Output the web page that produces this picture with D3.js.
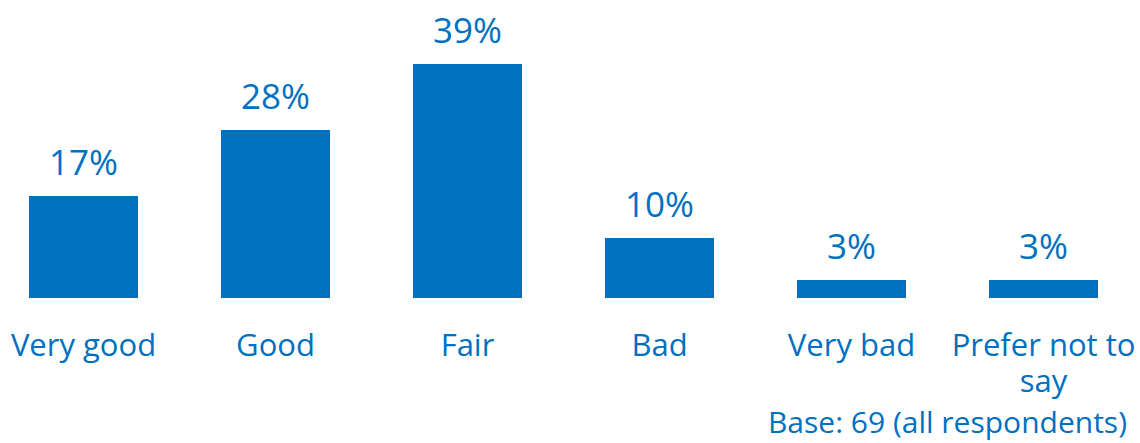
<!DOCTYPE html>
<html><head><meta charset="utf-8">
<script src="https://cdn.jsdelivr.net/npm/d3@7"></script>
<style>body{margin:0;background:#fff;} text{font-family:"Open Sans","Noto Sans",sans-serif;}</style>
</head><body>
<svg id="chart" width="1140" height="443"></svg>
<script>
const categories = ["Very good", "Good", "Fair", "Bad", "Very bad", "Prefer not to say"];
const values = [17, 28, 39, 10, 3, 3];
const valueLabels = ["17%", "28%", "39%", "10%", "3%", "3%"];
const baseNote = "Base: 69 (all respondents)";

const color = "#0070C0";
const svg = d3.select("#chart");
const baseline = 298;
const x = d3.scaleBand().domain(categories).range([-12.5, 1139.5]).paddingInner(0.4323).paddingOuter(0.21615);
const y = d3.scaleLinear().domain([0, 39]).range([baseline, 64]);

svg.selectAll("rect.bar").data(values).join("rect").attr("class","bar")
  .attr("x", (d,i)=>x(categories[i])).attr("width", x.bandwidth())
  .attr("y", d=>y(d)).attr("height", d=>baseline - y(d)).attr("fill", color);

svg.selectAll("text.val").data(values).join("text").attr("class","val")
  .attr("x", (d,i)=>x(categories[i]) + x.bandwidth()/2).attr("y", d=>y(d) - 21)
  .attr("text-anchor","middle").attr("fill", color).style("font-size","35px")
  .text((d,i)=>valueLabels[i]);

const axis = d3.axisBottom(x).tickSize(0).tickPadding(0);
const g = svg.append("g").attr("transform", `translate(0,${baseline})`).call(axis);
g.select(".domain").remove();
g.selectAll(".tick text").attr("fill", color).style("font-size","31px")
  .attr("y", 58).attr("dy", 0);
g.selectAll(".tick text").each(function(d){
  const t = d3.select(this); const words = d.split(" "); t.text(null);
  let line = [], ln = 0;
  let ts = t.append("tspan").attr("x",0).attr("y",58);
  for (const w of words){
    line.push(w); ts.text(line.join(" "));
    if (ts.node().getComputedTextLength() > x.step() && line.length>1){
      line.pop(); ts.text(line.join(" ")); line=[w]; ln++;
      ts = t.append("tspan").attr("x",0).attr("y",58 + ln*36).text(w);
    }
  }
});

svg.append("text").attr("x", 1127).attr("y", 433).attr("text-anchor","end")
  .attr("fill", color).style("font-size","30px").text(baseNote);
</script>
</body></html>
